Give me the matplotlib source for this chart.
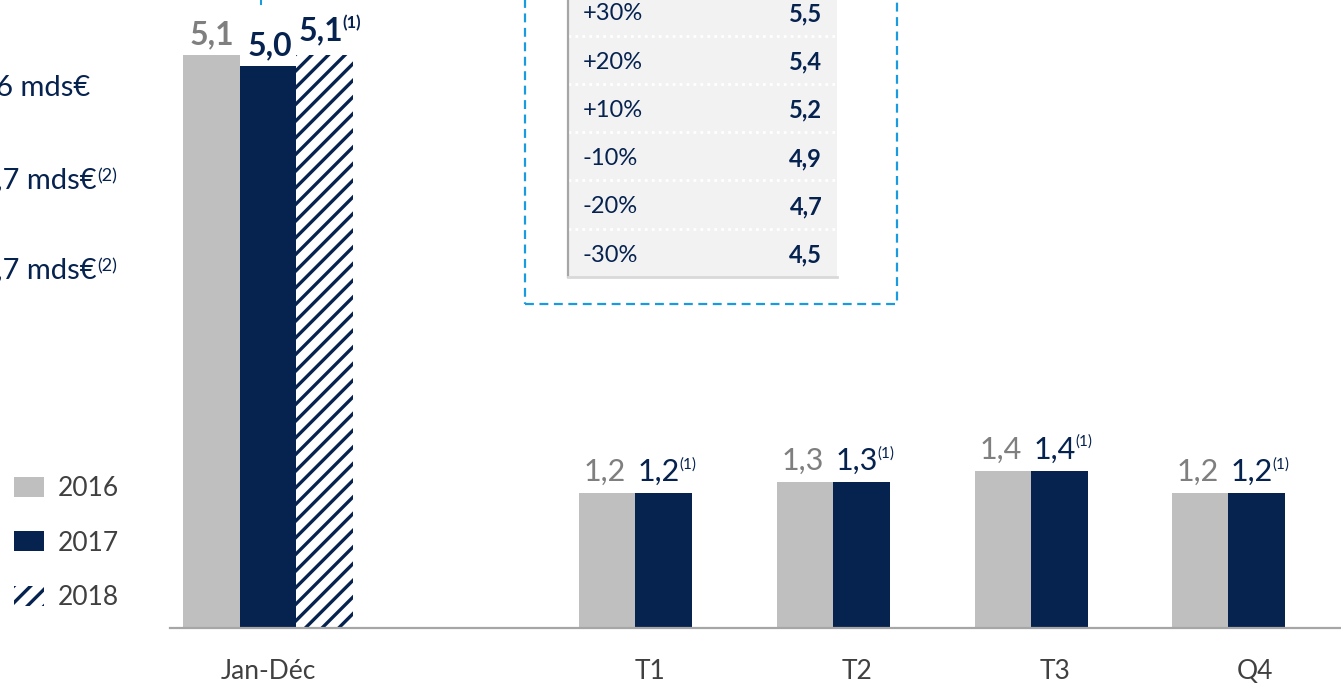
import matplotlib
matplotlib.use("Agg")
import matplotlib.pyplot as plt
from matplotlib.patches import Rectangle
from matplotlib.lines import Line2D

plt.rcParams['font.family'] = ['Lato', 'DejaVu Sans']
plt.rcParams['hatch.linewidth'] = 2.4

# ---------------- data ----------------
categories = ["Jan-Déc", "T1", "T2", "T3", "Q4"]
series_names = ["2016", "2017", "2018"]
values_2016 = [5.1, 1.2, 1.3, 1.4, 1.2]
values_2017 = [5.0, 1.2, 1.3, 1.4, 1.2]
values_2018 = [5.1]                      # only full year
labels_2016 = ["5,1", "1,2", "1,3", "1,4", "1,2"]
labels_2017 = ["5,0", "1,2", "1,3", "1,4", "1,2"]
labels_2018 = ["5,1"]
note_2017 = ["", "(1)", "(1)", "(1)", "(1)"]
note_2018 = ["(1)"]

table_labels = ["+30%", "+20%", "+10%", "-10%", "-20%", "-30%"]
table_values = ["5,5", "5,4", "5,2", "4,9", "4,7", "4,5"]

side_texts = ["6 mds€", ",7 mds€", ",7 mds€"]
side_notes = ["", "(2)", "(2)"]

# ---------------- style ----------------
GREY = "#bfbfbf"
NAVY = "#06224f"
GREY_TXT = "#7f7f7f"
DARK_TXT = "#404040"
BLUE = "#1a9be0"

W, H = 1341, 683
fig = plt.figure(figsize=(W / 100, H / 100), dpi=100)

def fx(px):
    return px / W

def fy(py):
    return 1 - py / H

# main axes: baseline at y=628 px
base_py = 628
left_px = 170
ax = fig.add_axes([fx(left_px), fy(base_py), 1 - fx(left_px), base_py / H])
px_per_unit = 112.4
ax.set_ylim(0, base_py / px_per_unit)
ax.set_xlim(left_px, W)

group_centers = [268, 635, 833, 1031, 1228]
bw = 56.5

x16, x17, x18 = [], [], []
for i, c in enumerate(group_centers):
    if i == 0:
        x16.append(c - bw); x17.append(c); x18.append(c + bw)
    else:
        x16.append(c - bw / 2); x17.append(c + bw / 2)

b16 = ax.bar(x16, values_2016, width=bw, color=GREY, label=series_names[0], linewidth=0)
b17 = ax.bar(x17, values_2017, width=bw, color=NAVY, label=series_names[1], linewidth=0)
b18 = ax.bar(x18, values_2018, width=bw, facecolor="white", edgecolor=NAVY,
             hatch="//", linewidth=0, label=series_names[2])

for s in ["top", "right", "left"]:
    ax.spines[s].set_visible(False)
ax.spines["bottom"].set_color("#a6a6a6")
ax.spines["bottom"].set_linewidth(1.6)
ax.set_yticks([])
tick_x = [268, 650, 857, 1055, 1255]
ax.set_xticks(tick_x)
ax.set_xticklabels(categories, fontsize=19, color=DARK_TXT)
ax.tick_params(axis="x", length=0, pad=22)

def vlabel(x, v, s, color, weight, size, off):
    return ax.annotate(s, (x, v), xytext=(0, off), textcoords="offset points",
                       ha="center", va="bottom", fontsize=size, color=color,
                       fontweight=weight)

notes = []
for i, (x, v) in enumerate(zip(x16, values_2016)):
    if i == 0:
        vlabel(x, v, labels_2016[i], GREY_TXT, "bold", 23, 4)
    else:
        vlabel(x - 2, v, labels_2016[i], GREY_TXT, "normal", 22, 5)
for i, (x, v) in enumerate(zip(x17, values_2017)):
    if i == 0:
        t = vlabel(x + 2, v, labels_2017[i], NAVY, "bold", 23, 4)
    else:
        t = vlabel(x - 5, v, labels_2017[i], NAVY, "normal", 22, 5)
    notes.append((t, note_2017[i], 11))
for i, (x, v) in enumerate(zip(x18, values_2018)):
    t = vlabel(x - 4, v, labels_2018[i], NAVY, "bold", 23, 7)
    notes.append((t, note_2018[i], 12))

# legend
leg = fig.legend(handles=[b16, b17, b18], labels=series_names, loc="upper left",
                 bbox_to_anchor=(fx(14), fy(476)), frameon=False, fontsize=19,
                 handlelength=1.15, handleheight=0.8, handletextpad=0.5,
                 labelspacing=1.12, labelcolor=DARK_TXT, borderpad=0,
                 borderaxespad=0)

# side texts (cut off at left edge, as in the source slide)
side_y = [88, 180, 270]
side_artists = []
for s, n, y in zip(side_texts, side_notes, side_y):
    t = fig.text(fx(-4), fy(y), s, fontsize=21, color=NAVY, va="center", ha="left")
    side_artists.append((t, n))

# table inset
row_h = 48.3
tbl_bottom = 277
tbl_ax = fig.add_axes([fx(568), fy(tbl_bottom), fx(837) - fx(568), 6 * row_h / H])
tbl_ax.set_facecolor("#f2f2f2")
n = len(table_labels)
tbl_ax.set_ylim(n, 0)
tbl_ax.set_xlim(0, 1)
tbl_ax.set_xticks([]); tbl_ax.set_yticks([])
for s in ["top", "right"]:
    tbl_ax.spines[s].set_visible(False)
tbl_ax.spines["left"].set_color("#a6a6a6")
tbl_ax.spines["left"].set_linewidth(1.6)
tbl_ax.spines["bottom"].set_color("#d9d9d9")
tbl_ax.spines["bottom"].set_linewidth(2)
for i, (lab, val) in enumerate(zip(table_labels, table_values)):
    tbl_ax.text(0.055, i + 0.55, lab, fontsize=17, color=NAVY, va="center", ha="left")
    tbl_ax.text(0.945, i + 0.55, val, fontsize=17, color=NAVY, va="center", ha="right",
                fontweight="bold")
    if i > 0:
        tbl_ax.axhline(i, color="white", linestyle=(0, (1, 1.5)), linewidth=2)

# dashed box
box = Rectangle((fx(525), fy(304)), fx(897) - fx(525), 0.6, transform=fig.transFigure,
                fill=False, edgecolor=BLUE, linewidth=1.6, linestyle=(0, (4, 2.5)),
                clip_on=False)
fig.add_artist(box)
fig.add_artist(Line2D([fx(261), fx(261)], [fy(4), 1.0], transform=fig.transFigure,
                      color=BLUE, linewidth=1.5))

# superscripts placed after the drawn text
fig.canvas.draw()
r = fig.canvas.get_renderer()
for t, s, size in notes:
    if not s:
        continue
    bb = t.get_window_extent(r)
    fig.text(bb.x1 / W, (bb.y1 + 1) / H, s, fontsize=size, color=NAVY,
             ha="left", va="top", fontweight=t.get_fontweight())
for t, s in side_artists:
    if not s:
        continue
    bb = t.get_window_extent(r)
    fig.text(bb.x1 / W + fx(1), (bb.y1 - 1) / H, s, fontsize=13, color=NAVY,
             ha="left", va="top")

fig.savefig("out.png", dpi=100)
